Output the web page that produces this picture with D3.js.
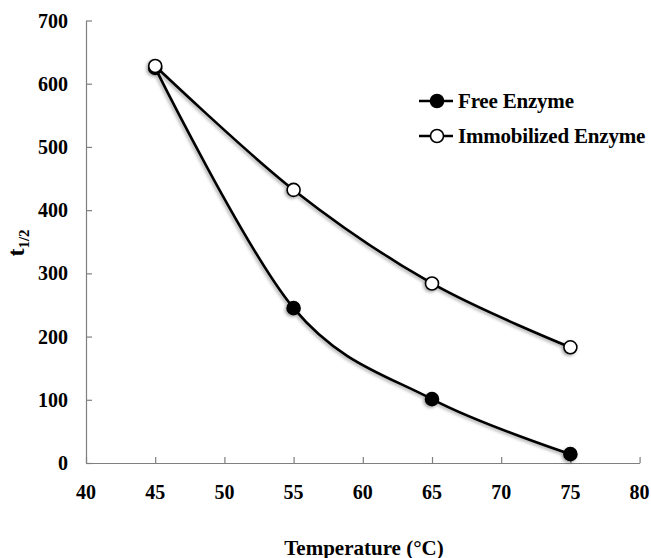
<!DOCTYPE html>
<html>
<head>
<meta charset="utf-8">
<script src="https://cdn.jsdelivr.net/npm/d3@7"></script>
<style>
  body { margin: 0; background: #fff; }
  svg text { font-family: "Liberation Serif", "Times New Roman", serif; font-weight: bold; fill: #000; }
  .axis path, .axis line { stroke: #7f7f7f; stroke-width: 1.2; }
</style>
</head>
<body>
<div id="chart"></div>
<script>
var temps = [45, 55, 65, 75],
    freeEnzyme = [625, 245, 101, 14],
    immobilizedEnzyme = [628, 432, 284, 183],
    xTicks = [40, 45, 50, 55, 60, 65, 70, 75, 80],
    yTicks = [0, 100, 200, 300, 400, 500, 600, 700];

var series = [
  {name: "Free Enzyme", values: freeEnzyme, fill: "#000"},
  {name: "Immobilized Enzyme", values: immobilizedEnzyme, fill: "#fff"}
];

var width = 651,
    height = 558,
    margin = {top: 20.5, right: 11.4, bottom: 95, left: 86},
    innerWidth = width - margin.left - margin.right,
    innerHeight = height - margin.top - margin.bottom,
    xScale = d3.scaleLinear().domain([40, 80]).range([0, innerWidth]),
    yScale = d3.scaleLinear().domain([0, 700]).range([innerHeight, 0]);

var svg = d3.select("#chart").append("svg")
    .attr("width", width)
    .attr("height", height);

var defs = svg.append("defs");
var shadow = defs.append("filter")
    .attr("id", "shadow")
    .attr("x", "-20%").attr("y", "-20%")
    .attr("width", "140%").attr("height", "140%");
shadow.append("feDropShadow")
    .attr("dx", -1.5).attr("dy", 1.5)
    .attr("stdDeviation", 1.5)
    .attr("flood-color", "#000")
    .attr("flood-opacity", 0.35);

var g = svg.append("g")
    .attr("transform", "translate(" + margin.left + "," + margin.top + ")");

// axes, ticks pointing inward
g.append("g")
    .attr("class", "axis axis-x")
    .attr("transform", "translate(0," + innerHeight + ")")
    .call(d3.axisTop(xScale).tickValues(xTicks).tickSize(6).tickSizeOuter(0))
    .call(function(s) { s.selectAll("text").remove(); });

g.append("g")
    .attr("class", "axis axis-y")
    .call(d3.axisRight(yScale).tickValues(yTicks).tickSize(6).tickSizeOuter(0))
    .call(function(s) { s.selectAll("text").remove(); });

// tick labels
g.append("g").selectAll("text")
    .data(xTicks).enter()
    .append("text")
      .attr("x", function(d) { return xScale(d); })
      .attr("y", innerHeight + 29)
      .attr("dy", "0.35em")
      .attr("text-anchor", "middle")
      .style("font-size", "20px")
      .text(function(d) { return d; });

g.append("g").selectAll("text")
    .data(yTicks).enter()
    .append("text")
      .attr("x", -18)
      .attr("y", function(d) { return yScale(d); })
      .attr("dy", "0.35em")
      .attr("text-anchor", "end")
      .style("font-size", "20px")
      .text(function(d) { return d; });

// axis titles
svg.append("text")
    .attr("x", 364)
    .attr("y", 548)
    .attr("dy", "0.35em")
    .attr("text-anchor", "middle")
    .style("font-size", "21px")
    .text("Temperature (\u00B0C)");

var yTitle = svg.append("text")
    .attr("transform", "translate(24,243) rotate(-90)")
    .attr("text-anchor", "middle")
    .style("font-size", "24px");
yTitle.append("tspan").text("t");
yTitle.append("tspan").attr("dy", 5).style("font-size", "15px").text("1/2");

// lines
var line = d3.line()
    .x(function(d, i) { return xScale(temps[i]); })
    .y(function(d) { return yScale(d); })
    .curve(d3.curveCatmullRom.alpha(0));

var lines = g.append("g").attr("filter", "url(#shadow)");

series.forEach(function(s) {
  lines.append("path")
      .datum(s.values)
      .attr("fill", "none")
      .attr("stroke", "#000")
      .attr("stroke-width", 2.6)
      .attr("d", line);
});

series.forEach(function(s) {
  lines.selectAll(null)
      .data(s.values).enter()
      .append("circle")
        .attr("cx", function(d, i) { return xScale(temps[i]); })
        .attr("cy", function(d) { return yScale(d); })
        .attr("r", 6.5)
        .attr("fill", s.fill)
        .attr("stroke", "#000")
        .attr("stroke-width", 1.6);
});

// legend
var legend = svg.append("g").attr("transform", "translate(419,101)");
series.forEach(function(s, i) {
  var row = legend.append("g").attr("transform", "translate(0," + (i * 35) + ")");
  row.append("line")
      .attr("x1", 0).attr("x2", 34)
      .attr("stroke", "#000").attr("stroke-width", 2.6);
  row.append("circle")
      .attr("cx", 18).attr("r", 6.5)
      .attr("fill", s.fill)
      .attr("stroke", "#000").attr("stroke-width", 1.6);
  row.append("text")
      .attr("x", 39)
      .attr("dy", "0.35em")
      .style("font-size", "21px")
      .style("letter-spacing", "-0.2px")
      .text(s.name);
});
</script>
</body>
</html>
